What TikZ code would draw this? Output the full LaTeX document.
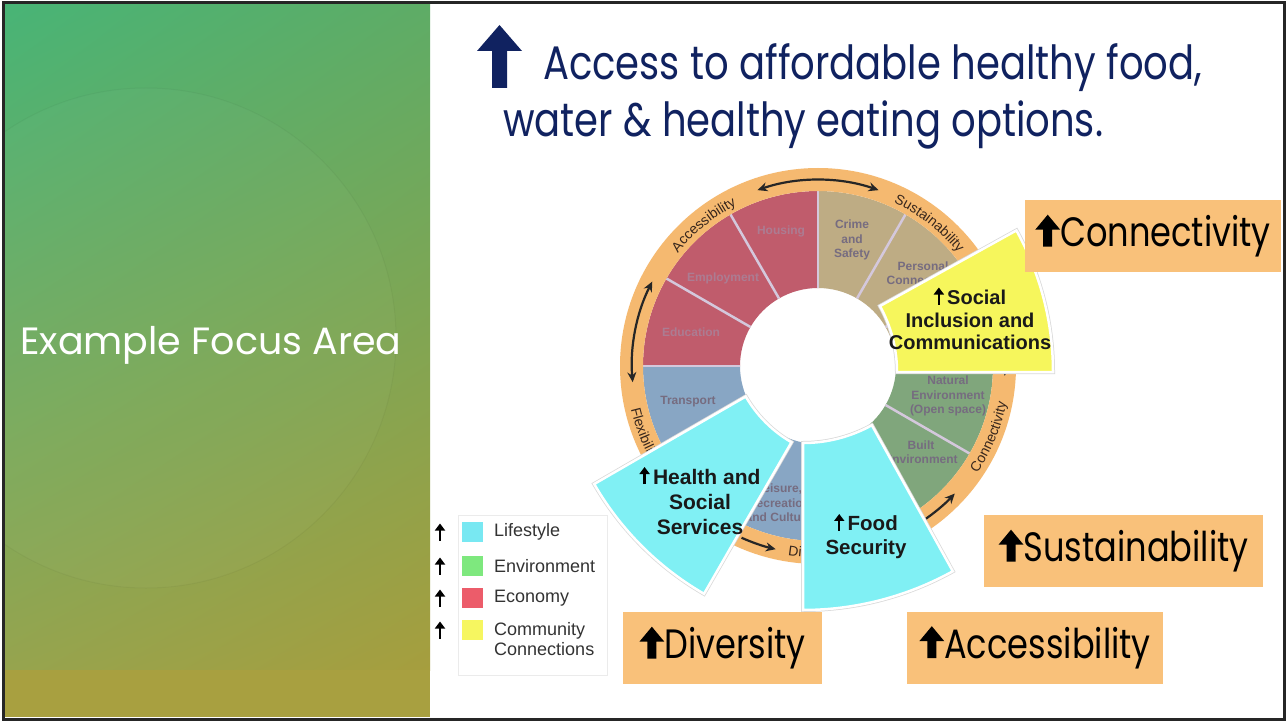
\documentclass[tikz,border=0pt]{standalone}
\usepackage{fontspec}
\setmainfont{Liberation Sans}
\newfontfamily\geofont[FakeStretch=0.82]{Poppins}
\newfontfamily\panelfont{Poppins}
\usetikzlibrary{arrows.meta,calc,positioning,decorations.text,shadings}

\definecolor{navy}{RGB}{16,34,96}
\definecolor{boxorange}{RGB}{249,193,122}
\definecolor{ringorange}{RGB}{245,185,112}
\definecolor{ringtext}{RGB}{55,38,28}
\definecolor{econred}{RGB}{192,92,108}
\definecolor{commtan}{RGB}{190,172,132}
\definecolor{lifeblue}{RGB}{136,166,196}
\definecolor{envgreen}{RGB}{128,166,124}
\definecolor{pullcyan}{RGB}{128,240,244}
\definecolor{pullyellow}{RGB}{246,246,92}
\definecolor{segline}{RGB}{212,200,220}
\definecolor{segtext}{RGB}{118,108,128}
\definecolor{econtext}{RGB}{172,124,146}
\definecolor{keycyan}{RGB}{120,232,242}
\definecolor{keygreen}{RGB}{126,232,126}
\definecolor{keyred}{RGB}{236,92,106}
\definecolor{keyyellow}{RGB}{246,246,96}
\definecolor{panelTL}{RGB}{72,180,118}
\definecolor{panelTR}{RGB}{94,172,102}
\definecolor{panelBL}{RGB}{150,164,78}
\definecolor{panelBR}{RGB}{166,158,62}
\definecolor{stripolive}{RGB}{168,160,64}

\newcommand{\ringfont}{\fontsize{14}{14}\selectfont}
\newcommand{\upblock}{\tikz[x=1pt,y=1pt,baseline=0pt]\fill[black] (-4.5,0) -- (4.5,0) -- (4.5,17) -- (12.5,17) -- (0,32) -- (-12.5,17) -- (-4.5,17) -- cycle;}
\newcommand{\upthin}{\tikz[x=1pt,y=1pt,baseline=0pt]\draw[black, line width=2.4pt, -{Triangle[length=7pt,width=10pt]}] (0,0) -- (0,17);}

\begin{document}
\begin{tikzpicture}[x=1pt, y=1pt,
    seglabel/.style={font=\bfseries\fontsize{12}{14.5}\selectfont, text=segtext, align=center, inner sep=0pt},
    econlabel/.style={seglabel, text=econtext},
    pulled/.style={draw=white, line width=2.5pt, preaction={draw=black!15, line width=4pt}},
    pulllabel/.style={font=\bfseries\fontsize{21}{25}\selectfont, text=black!90, align=center, inner sep=0pt},
    ringarc/.style={line width=2.2pt, black!85},
    ringlabel/.style={decorate, decoration={text along path, text align=center, text color=ringtext}},
    keysq/.style={minimum width=21pt, minimum height=20pt, inner sep=0pt},
    keytext/.style={font=\fontsize{18}{20}\selectfont, text=black!80, align=left, inner sep=0pt},
    focusbox/.style={fill=boxorange, font=\geofont\fontsize{41}{41}\selectfont, inner sep=0pt, minimum height=72pt},
    titletext/.style={font=\geofont\fontsize{47}{47}\selectfont, text=navy, inner sep=0pt, anchor=base west}
]
\useasboundingbox (0,0) rectangle (1287,-722);
\fill[white] (0,0) rectangle (1287,-722);

% left panel
\shade[upper left=panelTL, upper right=panelTR, lower left=panelBL, lower right=panelBR]
    (5,-5) rectangle (430,-670);
\fill[stripolive] (5,-670) rectangle (430,-717);
\begin{scope}
  \clip (5,-5) rectangle (430,-670);
  \fill[white, opacity=0.025] (146,-338) circle[radius=250];
  \draw[black, opacity=0.035, line width=1pt] (146,-338) circle[radius=250];
\end{scope}
\node[font=\panelfont\fontsize{38}{38}\selectfont, text=white, inner sep=0pt] (focus) at (211,-345) {Example Focus Area};

% title
\fill[navy] (492,-88) -- (507,-88) -- (507,-51) -- (522,-51) -- (499.5,-25) -- (477,-51) -- (492,-51) -- cycle;
\node[titletext] (title1) at (543,-80) {Access to affordable healthy food,};
\node[titletext] (title2) at (503,-137) {water \& healthy eating options.};

% wheel
\coordinate (wc) at (818,-366);
\foreach \a/\c in {0/commtan,30/commtan,60/commtan,90/econred,120/econred,150/econred,
                   180/lifeblue,210/lifeblue,240/lifeblue,270/lifeblue,300/envgreen,330/envgreen}
  \fill[\c] ($(wc)+(\a:78)$) arc[start angle=\a, end angle=\a+30, radius=78pt]
    -- ($(wc)+(\a+30:175)$) arc[start angle=\a+30, end angle=\a, radius=175pt] -- cycle;
\foreach \a in {0,30,...,330}
  \draw[segline, line width=2.5pt] ($(wc)+(\a:78)$) -- ($(wc)+(\a:175)$);
\fill[ringorange, even odd rule] (wc) circle[radius=198pt] (wc) circle[radius=175pt];

\node[econlabel] (housing) at (781,-231) {Housing};
\node[econlabel] (employ) at (723,-278) {Employment};
\node[econlabel] (educ) at (691,-332) {Education};
\node[seglabel] (transp) at (688,-402) {Transport};
\node[seglabel] (crime) at (852,-240) {Crime\\and\\Safety};
\node[seglabel] (personal) at (923,-273) {Personal\\Connections};
\node[seglabel] (natural) at (948,-396) {Natural\\Environment\\(Open space)};
\node[seglabel] (built) at (921,-452) {Built\\Environment};
\node[seglabel] (leisure) at (779,-503) {Leisure,\\Recreation\\and Culture};

% ring labels
\path[ringlabel, decoration={text={|\ringfont|Accessibility}}]
  ($(wc)+(143:180)$) arc[start angle=143, end angle=115, radius=180pt];
\path[ringlabel, decoration={text={|\ringfont|Sustainability}}]
  ($(wc)+(67:180)$) arc[start angle=67, end angle=37, radius=180pt];
\path[ringlabel, decoration={text={|\ringfont|Connectivity}}]
  ($(wc)+(-36:192)$) arc[start angle=-36, end angle=-9, radius=192pt];
\path[ringlabel, decoration={text={|\ringfont|Flexibility}, text align=left}]
  ($(wc)+(193:192)$) arc[start angle=193, end angle=235, radius=192pt];
\path[ringlabel, decoration={text={|\ringfont|Diversity}, text align=left}]
  ($(wc)+(261:192)$) arc[start angle=261, end angle=300, radius=192pt];

% ring arrows
\draw[ringarc, {Stealth[length=10pt,width=9pt]}-{Stealth[length=10pt,width=9pt]}]
  ($(wc)+(109:186)$) arc[start angle=109, end angle=71, radius=186pt];
\draw[ringarc, {Stealth[length=10pt,width=9pt]}-{Stealth[length=10pt,width=9pt]}]
  ($(wc)+(153:186)$) arc[start angle=153, end angle=185, radius=186pt];
\draw[ringarc, -{Stealth[length=10pt,width=9pt]}]
  ($(wc)+(246:188)$) arc[start angle=246, end angle=257, radius=188pt];
\draw[ringarc, -{Stealth[length=10pt,width=9pt]}]
  ($(wc)+(304:187)$) arc[start angle=304, end angle=317, radius=187pt];
\draw[ringarc, {Stealth[length=10pt,width=9pt]}-{Stealth[length=10pt,width=9pt]}]
  ($(wc)+(-3:187)$) arc[start angle=-3, end angle=25, radius=187pt];

% pulled-out segments
\coordinate (hc) at (854,-334);
\coordinate (fc) at (803,-301);
\coordinate (sc) at (761,-372);
\fill[pullcyan, pulled] ($(hc)+(210:125)$) arc[start angle=210, end angle=240, radius=125pt]
  -- ($(hc)+(240:300)$) arc[start angle=240, end angle=210, radius=300pt] -- cycle;
\fill[pullcyan, pulled] ($(fc)+(270:142)$) arc[start angle=270, end angle=299, radius=142pt]
  -- ($(fc)+(299:309)$) arc[start angle=299, end angle=270, radius=309pt] -- cycle;
\fill[pullyellow, pulled] ($(sc)+(0:136)$) arc[start angle=0, end angle=29, radius=136pt]
  -- ($(sc)+(29:292)$) arc[start angle=29, end angle=0, radius=292pt] -- cycle;
\node[pulllabel] (health) at (700,-500) {\upthin\,Health and\\Social\\Services};
\node[pulllabel, font=\bfseries\fontsize{20.5}{24}\selectfont] (food) at (866,-536) {\upthin\,Food\\Security};
\node[pulllabel, font=\bfseries\fontsize{20}{22.5}\selectfont] (social) at (970,-318) {\upthin\,Social\\Inclusion and\\Communications};

% legend
\draw[black!8, fill=white] (458,-515) rectangle (607,-675);
\node[keysq, fill=keycyan] (klife) at (472,-532) {};
\node[keysq, fill=keygreen] (kenv) at (472,-566) {};
\node[keysq, fill=keyred] (kecon) at (472,-598) {};
\node[keysq, fill=keyyellow] (kcomm) at (472,-630) {};
\foreach \k in {klife,kenv,kecon,kcomm}
  \node[inner sep=0pt, left=32pt of \k.center, anchor=center] {\upthin};
\node[keytext, anchor=west] (tlife) at (494,-532) {Lifestyle};
\node[keytext, anchor=west] (tenv) at (494,-566) {Environment};
\node[keytext, anchor=west] (tecon) at (494,-598) {Economy};
\node[keytext, anchor=north west] (tcomm) at (494,-622) {Community\\Connections};

% focus boxes
\node[focusbox, minimum width=256pt] (conn) at (1153,-236) {\upblock Connectivity};
\node[focusbox, minimum width=279pt] (sust) at (1123.5,-551) {\upblock Sustainability};
\node[focusbox, minimum width=256pt] (access) at (1035,-647.5) {\upblock Accessibility};
\node[focusbox, minimum width=199pt] (divers) at (722.5,-648) {\upblock Diversity};

% frame
\draw[black!85, line width=3pt] (3,-3) rectangle (1284,-719);
\end{tikzpicture}
\end{document}
